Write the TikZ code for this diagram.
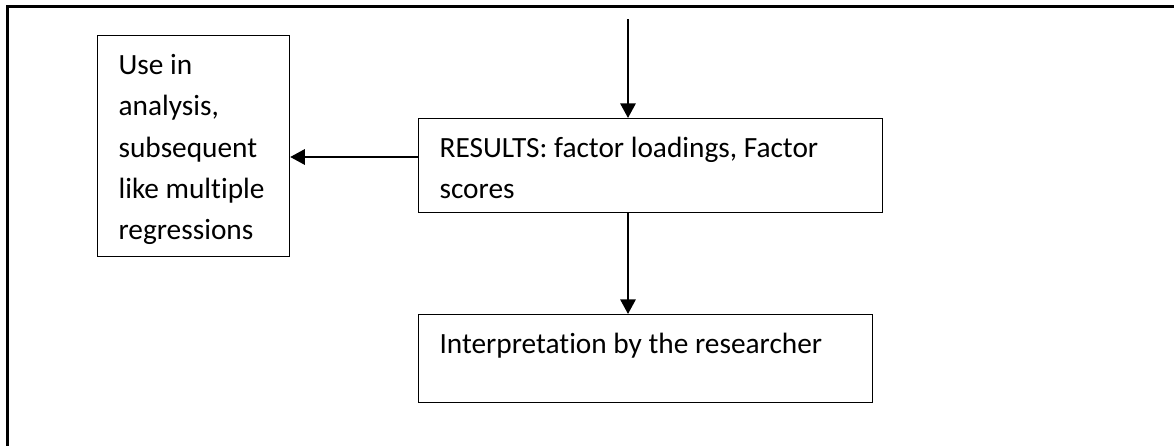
\documentclass[tikz,border=0pt]{standalone}
\usepackage{fontspec}
\setmainfont{Carlito}[Ligatures=NoCommon]
\usetikzlibrary{arrows.meta}

\newcommand{\boxtxt}[3]{\parbox[t][#2][t]{#1}{\raggedright\rule{0pt}{29.25pt}#3}}

\tikzset{
  box/.style={draw, line width=0.9pt, inner xsep=15.75pt, inner ysep=0pt, anchor=north west,
    font=\fontsize{22pt}{31pt}\selectfont},
  flow/.style={line width=1.6pt, -{Triangle[width=11.5pt, length=11pt]}},
  frame/.style={line width=2.25pt}
}

\begin{document}
\begin{tikzpicture}[x=0.75pt, y=-0.75pt]
			\useasboundingbox (0,0) rectangle (1174,446);

			\draw[frame] (7.3,446) -- (7.3,6.7) -- (1174,6.7); % page frame

			\node[box] (use) at (97,35) {\boxtxt{112.5pt}{165.75pt}{Use in\\ analysis,\\ subsequent\\ like multiple\\ regressions}};
			\node[box] (results) at (418,118) {\boxtxt{316.5pt}{70.5pt}{RESULTS: factor loadings, Factor\\ scores}};
			\node[box] (interp) at (418,314) {\boxtxt{309pt}{66pt}{Interpretation by the researcher}};

			\coordinate (in) at (628,19);
			\coordinate (hit) at (289,157);

			\draw[flow] (in) -- (in |- results.north);
			\draw[flow] (results.west |- hit) -- (use.east |- hit);
			\draw[flow] (in |- results.south) -- (in |- interp.north);
		\end{tikzpicture}
\end{document}
